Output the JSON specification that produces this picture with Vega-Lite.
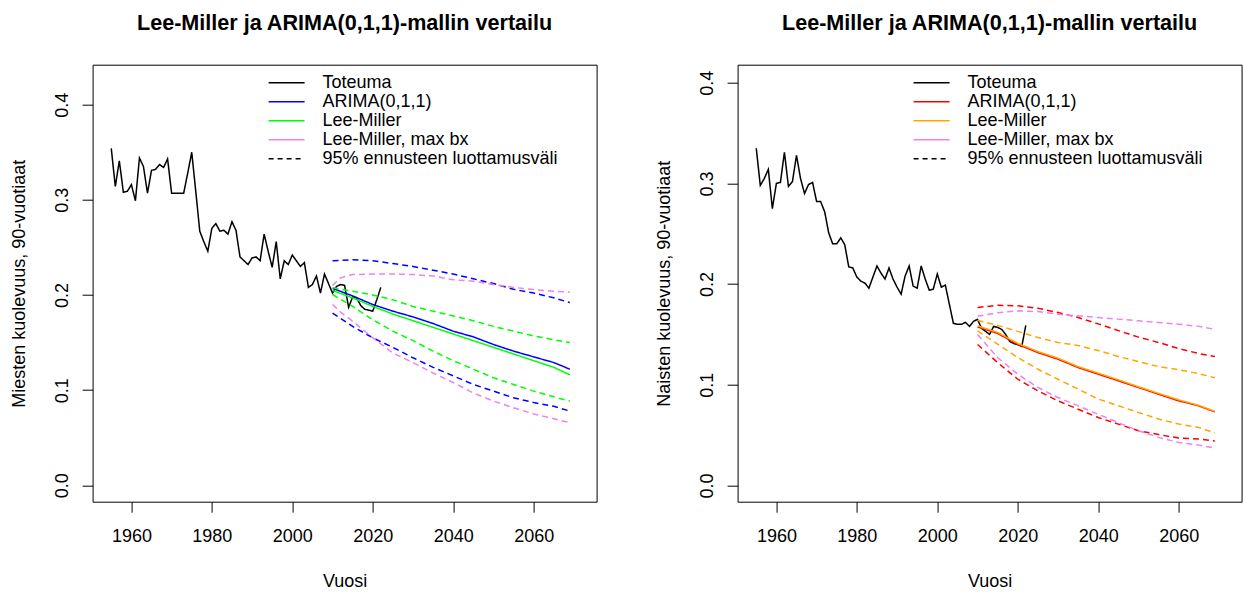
{
  "$schema": "https://vega.github.io/schema/vega-lite/v6.json",
  "padding": {"left": 9.6, "top": 11.7, "right": 0, "bottom": 0},
  "background": "white",
  "spacing": 57,
  "config": {
    "font": "Liberation Sans",
    "view": {"stroke": "black", "strokeWidth": 1},
    "axis": {
      "domain": false, "grid": false, "tickColor": "black", "tickSize": 10.5, "tickWidth": 1,
      "labelFontSize": 18, "labelColor": "black", "labelFont": "Liberation Sans",
      "titleFontSize": 18, "titleFontWeight": "normal", "titleColor": "black", "titleFont": "Liberation Sans",
      "labelOverlap": false, "labelFlush": false
    },
    "legend": {
      "orient": "none", "legendX": 175, "legendY": 9, "title": null,
      "symbolType": "stroke", "symbolSize": 1296, "symbolStrokeWidth": 1.5,
      "labelFontSize": 18, "labelFont": "Liberation Sans", "labelColor": "black",
      "labelOffset": 17, "clipHeight": 18.3, "rowPadding": 0, "padding": 0, "labelLimit": 500
    },
    "title": {"font": "Liberation Sans", "fontSize": 21.6, "fontWeight": "bold", "color": "black", "anchor": "middle", "frame": "group", "baseline": "alphabetic", "offset": 30}
  },
  "datasets": {
    "miehet": [
      {"y":1955,"m":"Toteuma","mid":0.354},{"y":1956,"m":"Toteuma","mid":0.314},{"y":1957,"m":"Toteuma","mid":0.341},
      {"y":1958,"m":"Toteuma","mid":0.308},{"y":1959,"m":"Toteuma","mid":0.309},{"y":1960,"m":"Toteuma","mid":0.316},
      {"y":1961,"m":"Toteuma","mid":0.299},{"y":1962,"m":"Toteuma","mid":0.344},{"y":1963,"m":"Toteuma","mid":0.335},
      {"y":1964,"m":"Toteuma","mid":0.307},{"y":1965,"m":"Toteuma","mid":0.331},{"y":1966,"m":"Toteuma","mid":0.332},
      {"y":1967,"m":"Toteuma","mid":0.337},{"y":1968,"m":"Toteuma","mid":0.334},{"y":1969,"m":"Toteuma","mid":0.343},
      {"y":1970,"m":"Toteuma","mid":0.307},{"y":1971,"m":"Toteuma","mid":0.307},{"y":1972,"m":"Toteuma","mid":0.307},
      {"y":1973,"m":"Toteuma","mid":0.307},{"y":1974,"m":"Toteuma","mid":0.328},{"y":1975,"m":"Toteuma","mid":0.350},
      {"y":1976,"m":"Toteuma","mid":0.309},{"y":1977,"m":"Toteuma","mid":0.267},{"y":1978,"m":"Toteuma","mid":0.256},
      {"y":1979,"m":"Toteuma","mid":0.246},{"y":1980,"m":"Toteuma","mid":0.270},{"y":1981,"m":"Toteuma","mid":0.275},
      {"y":1982,"m":"Toteuma","mid":0.267},{"y":1983,"m":"Toteuma","mid":0.268},{"y":1984,"m":"Toteuma","mid":0.264},
      {"y":1985,"m":"Toteuma","mid":0.277},{"y":1986,"m":"Toteuma","mid":0.268},{"y":1987,"m":"Toteuma","mid":0.240},
      {"y":1988,"m":"Toteuma","mid":0.236},{"y":1989,"m":"Toteuma","mid":0.232},{"y":1990,"m":"Toteuma","mid":0.239},
      {"y":1991,"m":"Toteuma","mid":0.240},{"y":1992,"m":"Toteuma","mid":0.236},{"y":1993,"m":"Toteuma","mid":0.264},
      {"y":1994,"m":"Toteuma","mid":0.246},{"y":1995,"m":"Toteuma","mid":0.229},{"y":1996,"m":"Toteuma","mid":0.256},
      {"y":1997,"m":"Toteuma","mid":0.217},{"y":1998,"m":"Toteuma","mid":0.236},{"y":1999,"m":"Toteuma","mid":0.232},
      {"y":2000,"m":"Toteuma","mid":0.242},{"y":2001,"m":"Toteuma","mid":0.236},{"y":2002,"m":"Toteuma","mid":0.230},
      {"y":2003,"m":"Toteuma","mid":0.234},{"y":2004,"m":"Toteuma","mid":0.208},{"y":2005,"m":"Toteuma","mid":0.211},
      {"y":2006,"m":"Toteuma","mid":0.220},{"y":2007,"m":"Toteuma","mid":0.202},{"y":2008,"m":"Toteuma","mid":0.222},
      {"y":2009,"m":"Toteuma","mid":0.212},{"y":2010,"m":"Toteuma","mid":0.202},{"y":2011,"m":"Toteuma","mid":0.209},
      {"y":2012,"m":"Toteuma","mid":0.211},{"y":2013,"m":"Toteuma","mid":0.210},{"y":2014,"m":"Toteuma","mid":0.187},
      {"y":2015,"m":"Toteuma","mid":0.198},{"y":2016,"m":"Toteuma","mid":0.197},{"y":2017,"m":"Toteuma","mid":0.189},
      {"y":2018,"m":"Toteuma","mid":0.185},{"y":2019,"m":"Toteuma","mid":0.184},{"y":2020,"m":"Toteuma","mid":0.183},
      {"y":2021,"m":"Toteuma","mid":0.195},{"y":2022,"m":"Toteuma","mid":0.208},
      {"y":2010,"m":"ARIMA(0,1,1)","lo":0.181,"mid":0.207,"hi":0.236},
      {"y":2015,"m":"ARIMA(0,1,1)","lo":0.167,"mid":0.199,"hi":0.237},
      {"y":2020,"m":"ARIMA(0,1,1)","lo":0.155,"mid":0.190,"hi":0.236},
      {"y":2025,"m":"ARIMA(0,1,1)","lo":0.145,"mid":0.183,"hi":0.233},
      {"y":2030,"m":"ARIMA(0,1,1)","lo":0.134,"mid":0.177,"hi":0.230},
      {"y":2035,"m":"ARIMA(0,1,1)","lo":0.124,"mid":0.170,"hi":0.226},
      {"y":2040,"m":"ARIMA(0,1,1)","lo":0.115,"mid":0.162,"hi":0.222},
      {"y":2045,"m":"ARIMA(0,1,1)","lo":0.106,"mid":0.156,"hi":0.217},
      {"y":2050,"m":"ARIMA(0,1,1)","lo":0.099,"mid":0.148,"hi":0.212},
      {"y":2055,"m":"ARIMA(0,1,1)","lo":0.092,"mid":0.141,"hi":0.206},
      {"y":2060,"m":"ARIMA(0,1,1)","lo":0.087,"mid":0.135,"hi":0.202},
      {"y":2065,"m":"ARIMA(0,1,1)","lo":0.083,"mid":0.129,"hi":0.197},
      {"y":2069,"m":"ARIMA(0,1,1)","lo":0.078,"mid":0.122,"hi":0.192},
      {"y":2010,"m":"Lee-Miller","lo":0.2005,"mid":0.2047,"hi":0.2075},
      {"y":2015,"m":"Lee-Miller","lo":0.188,"mid":0.197,"hi":0.204},
      {"y":2020,"m":"Lee-Miller","lo":0.174,"mid":0.188,"hi":0.200},
      {"y":2025,"m":"Lee-Miller","lo":0.162,"mid":0.180,"hi":0.195},
      {"y":2030,"m":"Lee-Miller","lo":0.152,"mid":0.173,"hi":0.188},
      {"y":2035,"m":"Lee-Miller","lo":0.141,"mid":0.166,"hi":0.183},
      {"y":2040,"m":"Lee-Miller","lo":0.131,"mid":0.159,"hi":0.178},
      {"y":2045,"m":"Lee-Miller","lo":0.122,"mid":0.152,"hi":0.173},
      {"y":2050,"m":"Lee-Miller","lo":0.113,"mid":0.145,"hi":0.167},
      {"y":2055,"m":"Lee-Miller","lo":0.106,"mid":0.138,"hi":0.162},
      {"y":2060,"m":"Lee-Miller","lo":0.099,"mid":0.131,"hi":0.157},
      {"y":2065,"m":"Lee-Miller","lo":0.093,"mid":0.124,"hi":0.153},
      {"y":2069,"m":"Lee-Miller","lo":0.0885,"mid":0.116,"hi":0.150},
      {"y":2010,"m":"Lee-Miller, max bx","lo":0.190,"hi":0.210},
      {"y":2012,"m":"Lee-Miller, max bx","lo":0.182,"hi":0.218},
      {"y":2015,"m":"Lee-Miller, max bx","lo":0.1725,"hi":0.2215},
      {"y":2020,"m":"Lee-Miller, max bx","lo":0.155,"hi":0.222},
      {"y":2025,"m":"Lee-Miller, max bx","lo":0.139,"hi":0.222},
      {"y":2030,"m":"Lee-Miller, max bx","lo":0.129,"hi":0.2215},
      {"y":2035,"m":"Lee-Miller, max bx","lo":0.118,"hi":0.220},
      {"y":2040,"m":"Lee-Miller, max bx","lo":0.108,"hi":0.216},
      {"y":2045,"m":"Lee-Miller, max bx","lo":0.097,"hi":0.2145},
      {"y":2050,"m":"Lee-Miller, max bx","lo":0.0885,"hi":0.211},
      {"y":2055,"m":"Lee-Miller, max bx","lo":0.0815,"hi":0.208},
      {"y":2060,"m":"Lee-Miller, max bx","lo":0.075,"hi":0.2057},
      {"y":2065,"m":"Lee-Miller, max bx","lo":0.070,"hi":0.204},
      {"y":2069,"m":"Lee-Miller, max bx","lo":0.0658,"hi":0.203}
    ],
    "naiset": [
      {"y":1955,"m":"Toteuma","mid":0.335},{"y":1956,"m":"Toteuma","mid":0.298},{"y":1957,"m":"Toteuma","mid":0.305},
      {"y":1958,"m":"Toteuma","mid":0.314},{"y":1959,"m":"Toteuma","mid":0.275},{"y":1960,"m":"Toteuma","mid":0.300},
      {"y":1961,"m":"Toteuma","mid":0.301},{"y":1962,"m":"Toteuma","mid":0.331},{"y":1963,"m":"Toteuma","mid":0.297},
      {"y":1964,"m":"Toteuma","mid":0.302},{"y":1965,"m":"Toteuma","mid":0.328},{"y":1966,"m":"Toteuma","mid":0.305},
      {"y":1967,"m":"Toteuma","mid":0.290},{"y":1968,"m":"Toteuma","mid":0.299},{"y":1969,"m":"Toteuma","mid":0.301},
      {"y":1970,"m":"Toteuma","mid":0.282},{"y":1971,"m":"Toteuma","mid":0.282},{"y":1972,"m":"Toteuma","mid":0.272},
      {"y":1973,"m":"Toteuma","mid":0.251},{"y":1974,"m":"Toteuma","mid":0.240},{"y":1975,"m":"Toteuma","mid":0.240},
      {"y":1976,"m":"Toteuma","mid":0.246},{"y":1977,"m":"Toteuma","mid":0.239},{"y":1978,"m":"Toteuma","mid":0.217},
      {"y":1979,"m":"Toteuma","mid":0.216},{"y":1980,"m":"Toteuma","mid":0.207},{"y":1981,"m":"Toteuma","mid":0.203},
      {"y":1982,"m":"Toteuma","mid":0.201},{"y":1983,"m":"Toteuma","mid":0.196},{"y":1984,"m":"Toteuma","mid":0.207},
      {"y":1985,"m":"Toteuma","mid":0.218},{"y":1986,"m":"Toteuma","mid":0.211},{"y":1987,"m":"Toteuma","mid":0.205},
      {"y":1988,"m":"Toteuma","mid":0.216},{"y":1989,"m":"Toteuma","mid":0.205},{"y":1990,"m":"Toteuma","mid":0.197},
      {"y":1991,"m":"Toteuma","mid":0.190},{"y":1992,"m":"Toteuma","mid":0.208},{"y":1993,"m":"Toteuma","mid":0.218},
      {"y":1994,"m":"Toteuma","mid":0.198},{"y":1995,"m":"Toteuma","mid":0.196},{"y":1996,"m":"Toteuma","mid":0.218},
      {"y":1997,"m":"Toteuma","mid":0.205},{"y":1998,"m":"Toteuma","mid":0.194},{"y":1999,"m":"Toteuma","mid":0.195},
      {"y":2000,"m":"Toteuma","mid":0.210},{"y":2001,"m":"Toteuma","mid":0.197},{"y":2002,"m":"Toteuma","mid":0.199},
      {"y":2003,"m":"Toteuma","mid":0.180},{"y":2004,"m":"Toteuma","mid":0.161},{"y":2005,"m":"Toteuma","mid":0.160},
      {"y":2006,"m":"Toteuma","mid":0.160},{"y":2007,"m":"Toteuma","mid":0.162},{"y":2008,"m":"Toteuma","mid":0.158},
      {"y":2009,"m":"Toteuma","mid":0.163},{"y":2010,"m":"Toteuma","mid":0.165},{"y":2011,"m":"Toteuma","mid":0.156},
      {"y":2012,"m":"Toteuma","mid":0.153},{"y":2013,"m":"Toteuma","mid":0.150},{"y":2014,"m":"Toteuma","mid":0.158},
      {"y":2015,"m":"Toteuma","mid":0.157},{"y":2016,"m":"Toteuma","mid":0.155},{"y":2017,"m":"Toteuma","mid":0.150},
      {"y":2018,"m":"Toteuma","mid":0.143},{"y":2019,"m":"Toteuma","mid":0.141},{"y":2020,"m":"Toteuma","mid":0.140},
      {"y":2021,"m":"Toteuma","mid":0.138},{"y":2022,"m":"Toteuma","mid":0.159},
      {"y":2010,"m":"ARIMA(0,1,1)","lo":0.140,"mid":0.1575,"hi":0.1767},
      {"y":2015,"m":"ARIMA(0,1,1)","lo":0.122,"mid":0.151,"hi":0.179},
      {"y":2020,"m":"ARIMA(0,1,1)","lo":0.1055,"mid":0.140,"hi":0.1784},
      {"y":2025,"m":"ARIMA(0,1,1)","lo":0.094,"mid":0.132,"hi":0.176},
      {"y":2030,"m":"ARIMA(0,1,1)","lo":0.084,"mid":0.1254,"hi":0.1718},
      {"y":2035,"m":"ARIMA(0,1,1)","lo":0.0757,"mid":0.1171,"hi":0.1668},
      {"y":2040,"m":"ARIMA(0,1,1)","lo":0.0674,"mid":0.1105,"hi":0.1605},
      {"y":2045,"m":"ARIMA(0,1,1)","lo":0.0609,"mid":0.1039,"hi":0.1538},
      {"y":2050,"m":"ARIMA(0,1,1)","lo":0.0543,"mid":0.0973,"hi":0.1473},
      {"y":2055,"m":"ARIMA(0,1,1)","lo":0.0505,"mid":0.0906,"hi":0.142},
      {"y":2060,"m":"ARIMA(0,1,1)","lo":0.047,"mid":0.084,"hi":0.136},
      {"y":2065,"m":"ARIMA(0,1,1)","lo":0.046,"mid":0.079,"hi":0.131},
      {"y":2069,"m":"ARIMA(0,1,1)","lo":0.044,"mid":0.073,"hi":0.128},
      {"y":2010,"m":"Lee-Miller","lo":0.1536,"mid":0.1585,"hi":0.164},
      {"y":2015,"m":"Lee-Miller","lo":0.1403,"mid":0.152,"hi":0.159},
      {"y":2020,"m":"Lee-Miller","lo":0.127,"mid":0.141,"hi":0.153},
      {"y":2025,"m":"Lee-Miller","lo":0.1154,"mid":0.133,"hi":0.147},
      {"y":2030,"m":"Lee-Miller","lo":0.1055,"mid":0.1264,"hi":0.142},
      {"y":2035,"m":"Lee-Miller","lo":0.0957,"mid":0.118,"hi":0.139},
      {"y":2040,"m":"Lee-Miller","lo":0.0858,"mid":0.1115,"hi":0.134},
      {"y":2045,"m":"Lee-Miller","lo":0.0791,"mid":0.1049,"hi":0.128},
      {"y":2050,"m":"Lee-Miller","lo":0.0725,"mid":0.098,"hi":0.123},
      {"y":2055,"m":"Lee-Miller","lo":0.0659,"mid":0.0914,"hi":0.118},
      {"y":2060,"m":"Lee-Miller","lo":0.0609,"mid":0.085,"hi":0.115},
      {"y":2065,"m":"Lee-Miller","lo":0.0576,"mid":0.0795,"hi":0.111},
      {"y":2069,"m":"Lee-Miller","lo":0.0521,"mid":0.0735,"hi":0.107},
      {"y":2010,"m":"Lee-Miller, max bx","lo":0.150,"hi":0.168},
      {"y":2015,"m":"Lee-Miller, max bx","lo":0.127,"hi":0.1716},
      {"y":2020,"m":"Lee-Miller, max bx","lo":0.1105,"hi":0.1734},
      {"y":2025,"m":"Lee-Miller, max bx","lo":0.0973,"hi":0.1727},
      {"y":2030,"m":"Lee-Miller, max bx","lo":0.0873,"hi":0.170},
      {"y":2035,"m":"Lee-Miller, max bx","lo":0.079,"hi":0.1685},
      {"y":2040,"m":"Lee-Miller, max bx","lo":0.0707,"hi":0.1668},
      {"y":2045,"m":"Lee-Miller, max bx","lo":0.0624,"hi":0.1652},
      {"y":2050,"m":"Lee-Miller, max bx","lo":0.0543,"hi":0.1635},
      {"y":2055,"m":"Lee-Miller, max bx","lo":0.0477,"hi":0.1618},
      {"y":2060,"m":"Lee-Miller, max bx","lo":0.0427,"hi":0.1602},
      {"y":2065,"m":"Lee-Miller, max bx","lo":0.040,"hi":0.158},
      {"y":2069,"m":"Lee-Miller, max bx","lo":0.037,"hi":0.155}
    ]
  },
  "resolve": {"scale": {"color": "independent", "y": "independent", "strokeDash": "independent"}, "legend": {"color": "independent"}},
  "hconcat": [
    {
      "width": 504, "height": 437,
      "data": {"name": "miehet"},
      "title": {"text": "Lee-Miller ja ARIMA(0,1,1)-mallin vertailu"},
      "transform": [{"fold": ["lo", "mid", "hi"], "as": ["b", "v"]}, {"filter": "isValid(datum.v)"}],
      "mark": {"type": "line", "strokeWidth": 1.5, "clip": true},
      "encoding": {
        "x": {"field": "y", "type": "quantitative", "scale": {"domain": [1950.36, 2075.64], "nice": false, "zero": false},
              "axis": {"values": [1960, 1980, 2000, 2020, 2040, 2060], "format": "d", "title": "Vuosi", "labelPadding": 15, "titleBaseline": "alphabetic", "titleY": 84.5}},
        "y": {"field": "v", "type": "quantitative", "scale": {"domain": [-0.0172, 0.442], "nice": false, "zero": false},
              "axis": {"values": [0, 0.1, 0.2, 0.3, 0.4], "format": ".1f", "title": "Miesten kuolevuus, 90-vuotiaat", "labelAngle": -90, "labelAlign": "center", "labelBaseline": "alphabetic", "labelPadding": 15, "titleX": -68, "titleBaseline": "alphabetic", "titleAngle": -90, "titleAlign": "center"}},
        "color": {"field": "m", "type": "nominal",
                  "scale": {"domain": ["Toteuma", "ARIMA(0,1,1)", "Lee-Miller", "Lee-Miller, max bx", "95% ennusteen luottamusväli"], "range": ["black", "#0000ff", "#00ff00", "#ee82ee", "black"]},
                  "legend": {"encode": {"symbols": {"update": {"strokeDash": {"signal": "datum.value === '95% ennusteen luottamusväli' ? [5, 4] : [1, 0]"}}}}}},
        "strokeDash": {"field": "b", "type": "nominal", "scale": {"domain": ["mid", "lo", "hi"], "range": [[1, 0], [6, 4], [6, 4]]}, "legend": null}
      }
    },
    {
      "width": 504, "height": 437,
      "data": {"name": "naiset"},
      "title": {"text": "Lee-Miller ja ARIMA(0,1,1)-mallin vertailu"},
      "transform": [{"fold": ["lo", "mid", "hi"], "as": ["b", "v"]}, {"filter": "isValid(datum.v)"}],
      "mark": {"type": "line", "strokeWidth": 1.5, "clip": true},
      "encoding": {
        "x": {"field": "y", "type": "quantitative", "scale": {"domain": [1950.36, 2075.64], "nice": false, "zero": false},
              "axis": {"values": [1960, 1980, 2000, 2020, 2040, 2060], "format": "d", "title": "Vuosi", "labelPadding": 15, "titleBaseline": "alphabetic", "titleY": 84.5}},
        "y": {"field": "v", "type": "quantitative", "scale": {"domain": [-0.0162, 0.418], "nice": false, "zero": false},
              "axis": {"values": [0, 0.1, 0.2, 0.3, 0.4], "format": ".1f", "title": "Naisten kuolevuus, 90-vuotiaat", "labelAngle": -90, "labelAlign": "center", "labelBaseline": "alphabetic", "labelPadding": 15, "titleX": -68, "titleBaseline": "alphabetic", "titleAngle": -90, "titleAlign": "center"}},
        "color": {"field": "m", "type": "nominal",
                  "scale": {"domain": ["Toteuma", "ARIMA(0,1,1)", "Lee-Miller", "Lee-Miller, max bx", "95% ennusteen luottamusväli"], "range": ["black", "#ff0000", "#ffa500", "#ee82ee", "black"]},
                  "legend": {"encode": {"symbols": {"update": {"strokeDash": {"signal": "datum.value === '95% ennusteen luottamusväli' ? [5, 4] : [1, 0]"}}}}}},
        "strokeDash": {"field": "b", "type": "nominal", "scale": {"domain": ["mid", "lo", "hi"], "range": [[1, 0], [6, 4], [6, 4]]}, "legend": null}
      }
    }
  ]
}
